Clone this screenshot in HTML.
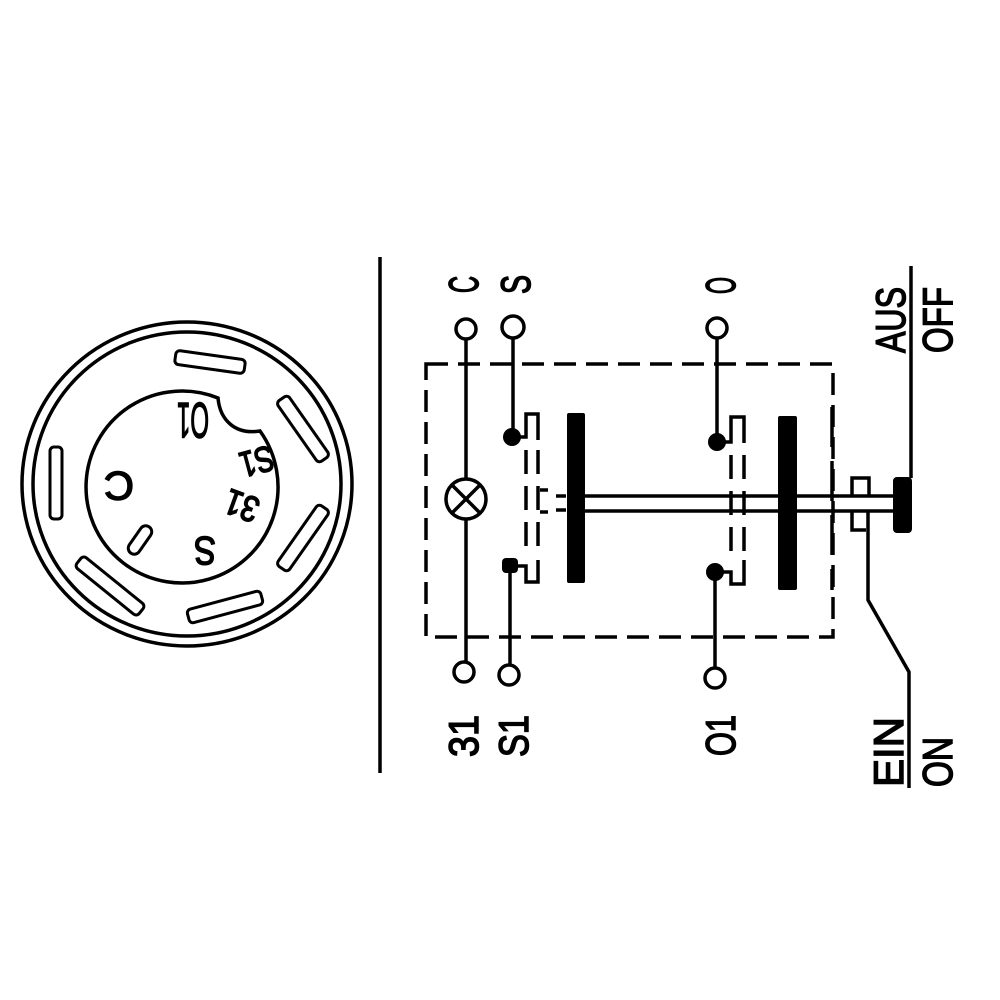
<!DOCTYPE html>
<html><head><meta charset="utf-8"><style>
html,body{margin:0;padding:0;background:#fff}
svg{display:block}
text{font-family:"Liberation Sans",sans-serif;font-size:42px;fill:#000;stroke:#000;stroke-width:1.5}
</style></head><body>
<svg width="1000" height="1000" viewBox="0 0 1000 1000" xmlns="http://www.w3.org/2000/svg">
<rect width="1000" height="1000" fill="#fff"/>
<g fill="none" stroke="#000" stroke-width="3.5">
  <ellipse cx="187" cy="484" rx="165" ry="162"/>
  <ellipse cx="187" cy="484" rx="154" ry="152"/>
  <path d="M218,398 C220,420 235,435 260,431 A96 96 0 1 1 218,398 Z"/>
  <g stroke-width="3">
    <rect x="-35" y="-7" width="70" height="14" rx="4" transform="translate(210,362) rotate(8)"/>
    <rect x="-37" y="-7" width="74" height="14" rx="4" transform="translate(303,429) rotate(55)"/>
    <rect x="-36" y="-6" width="72" height="12" rx="4" transform="translate(56,483) rotate(90)"/>
    <rect x="-37" y="-7" width="74" height="14" rx="4" transform="translate(303,538) rotate(-55)"/>
    <rect x="-40" y="-7" width="80" height="14" rx="4" transform="translate(110,586) rotate(39)"/>
    <rect x="-38" y="-7" width="76" height="14" rx="4" transform="translate(225,607) rotate(-15)"/>
    <rect x="-16" y="-6" width="32" height="12" rx="6" transform="translate(140,540) rotate(-55)"/>
  </g>
  <line x1="380" y1="257" x2="380" y2="773"/>
  <rect x="426" y="364" width="407" height="273" stroke-dasharray="22 10"/>
  <circle cx="466" cy="329" r="10"/>
  <circle cx="513" cy="327" r="11"/>
  <circle cx="717" cy="328" r="10"/>
  <circle cx="464" cy="672" r="10"/>
  <circle cx="509" cy="675" r="10"/>
  <circle cx="715" cy="678" r="10"/>
  <line x1="466" y1="339" x2="466" y2="479"/>
  <line x1="466" y1="519" x2="466" y2="662"/>
  <circle cx="466" cy="499" r="20"/>
  <line x1="452" y1="485" x2="480" y2="513"/>
  <line x1="480" y1="485" x2="452" y2="513"/>
  <line x1="513" y1="338" x2="513" y2="437"/>
  <line x1="510" y1="565" x2="510" y2="665"/>
  <line x1="717" y1="338" x2="717" y2="442"/>
  <line x1="715" y1="572" x2="715" y2="668"/>
  <path d="M518,437 L526,437 L526,414 L538,414 L538,440"/>
  <path d="M518,566 L526,566 L526,582 L538,582 L538,560"/>
  <line x1="526" y1="450" x2="526" y2="555" stroke-dasharray="24 12"/>
  <line x1="538" y1="450" x2="538" y2="555" stroke-dasharray="24 12"/>
  <path d="M540,490 L548,490 M540,512 L548,512 M556,496 L566,496 M556,510 L566,510"/>
  <path d="M722,442 L731,442 L731,417 L744,417 L744,443"/>
  <path d="M722,572 L731,572 L731,584 L744,584 L744,560"/>
  <line x1="731" y1="455" x2="731" y2="555" stroke-dasharray="24 12"/>
  <line x1="744" y1="455" x2="744" y2="555" stroke-dasharray="24 12"/>
  <line x1="832" y1="407" x2="832" y2="590" stroke-dasharray="40 14"/>
  <line x1="585" y1="496" x2="894" y2="496"/>
  <line x1="585" y1="511" x2="894" y2="511"/>
  <path d="M852,496 L852,478 L869,478 L869,496"/>
  <path d="M852,511 L852,530 L866,530"/>
  <line x1="911" y1="266" x2="911" y2="478"/>
  <path d="M868,511 L868,600 L909,672 L909,788"/>
</g>
<g fill="#000">
  <circle cx="512" cy="437" r="9"/>
  <rect x="502" y="558" width="16" height="15" rx="4"/>
  <circle cx="717" cy="442" r="9"/>
  <circle cx="715" cy="572" r="9"/>
  <rect x="567" y="413" width="18" height="170" rx="2"/>
  <rect x="778" y="416" width="19" height="174" rx="2"/>
  <rect x="893" y="477" width="19" height="56" rx="4"/>
</g>
<g>
  <text transform="translate(478,293) rotate(-90)" textLength="17" lengthAdjust="spacingAndGlyphs">C</text>
  <text transform="translate(530,294) rotate(-90)" textLength="19" lengthAdjust="spacingAndGlyphs">S</text>
  <text transform="translate(735,294) rotate(-90)" textLength="17" lengthAdjust="spacingAndGlyphs">O</text>
  <text transform="translate(478,757) rotate(-90)" textLength="42" lengthAdjust="spacingAndGlyphs">31</text>
  <text transform="translate(528,757) rotate(-90)" textLength="42" lengthAdjust="spacingAndGlyphs">S1</text>
  <text transform="translate(735,756) rotate(-90)" textLength="41" lengthAdjust="spacingAndGlyphs">O1</text>
  <text transform="translate(905,353) rotate(-90)" textLength="66" lengthAdjust="spacingAndGlyphs">AUS</text>
  <text transform="translate(952,353) rotate(-90)" textLength="66" lengthAdjust="spacingAndGlyphs">OFF</text>
  <text transform="translate(903,787) rotate(-90)" textLength="70" lengthAdjust="spacingAndGlyphs">EIN</text>
  <text transform="translate(952,787) rotate(-90)" textLength="50" lengthAdjust="spacingAndGlyphs">ON</text>
</g>
<g>
  <text transform="translate(209,403) rotate(180)" textLength="32" lengthAdjust="spacingAndGlyphs" style="font-size:50px">O1</text>
  <text transform="translate(134,472) rotate(180)" textLength="30" lengthAdjust="spacingAndGlyphs" style="font-size:40px">C</text>
  <text transform="translate(216,537) rotate(180)" textLength="22" lengthAdjust="spacingAndGlyphs" style="font-size:40px">S</text>
  <text transform="translate(270,445) rotate(165)" textLength="34" lengthAdjust="spacingAndGlyphs" style="font-size:36px">S1</text>
  <text transform="translate(262,500) rotate(200)" textLength="34" lengthAdjust="spacingAndGlyphs" style="font-size:36px">31</text>
</g>
</svg>
</body></html>
